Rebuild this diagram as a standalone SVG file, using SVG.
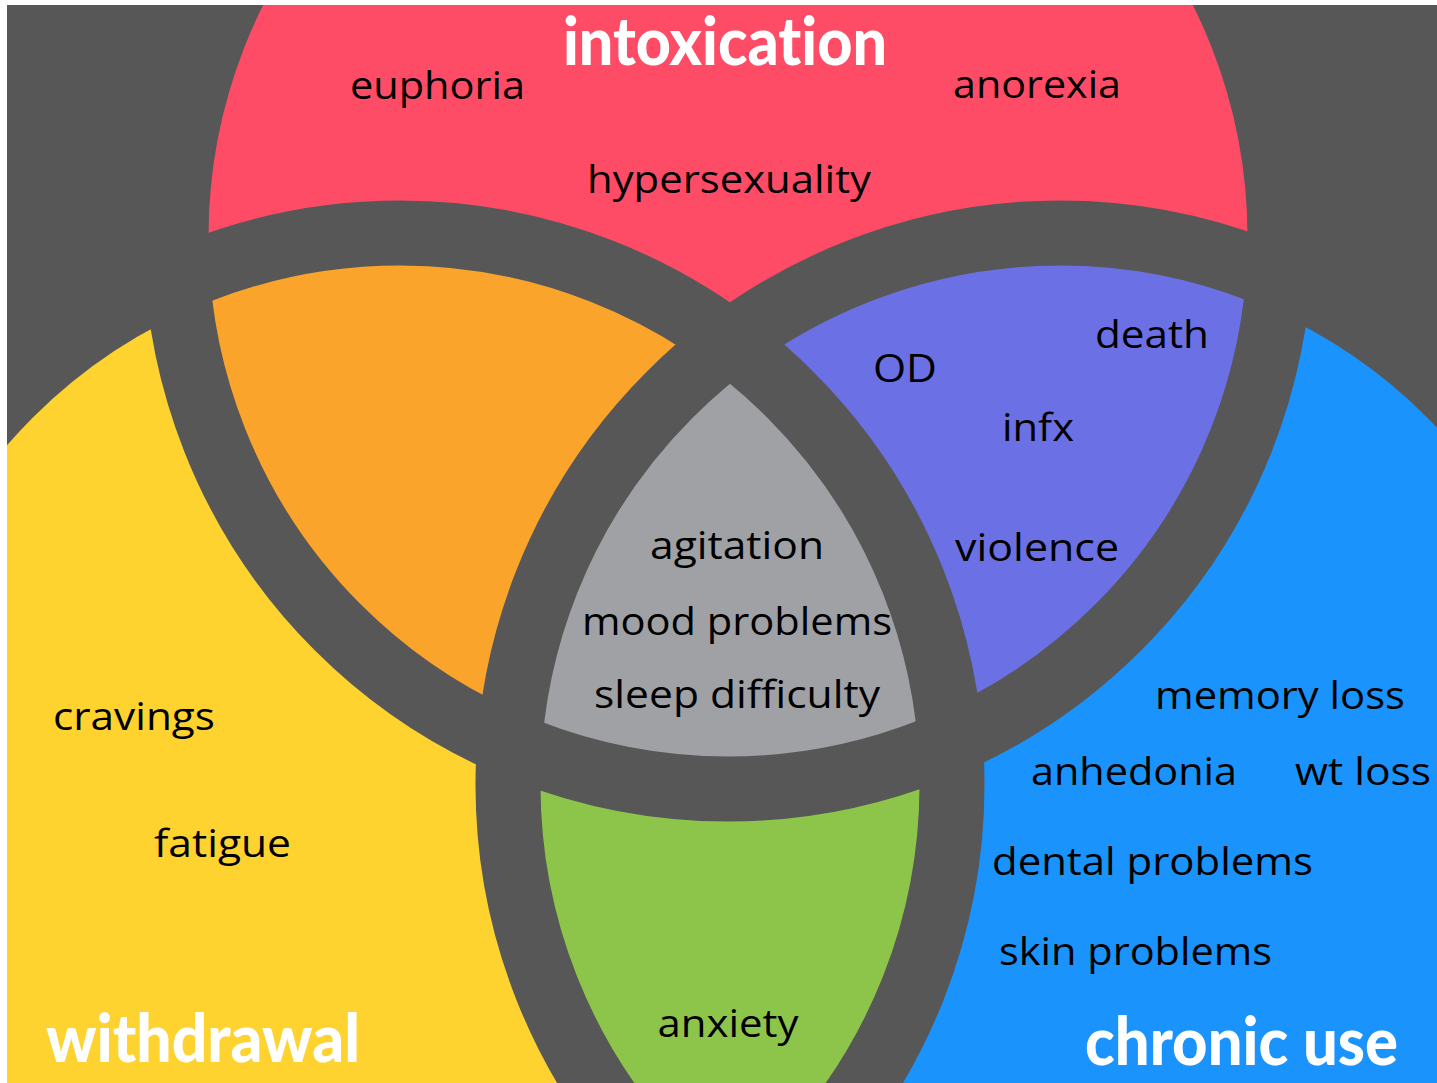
<svg xmlns="http://www.w3.org/2000/svg" width="1437" height="1083" viewBox="0 0 1437 1083">
  <defs>
    <clipPath id="frame"><rect x="7" y="5" width="1430" height="1078"/></clipPath>
    <clipPath id="cR"><circle cx="728" cy="237" r="552"/></clipPath>
    <clipPath id="cY"><circle cx="400" cy="785" r="552"/></clipPath>
    <style>
      .lbl { font-family: "Open Sans", "Noto Sans", "Liberation Sans", sans-serif; font-size: 39px; fill: #000000; }
      .ttl { font-family: Lato, "Open Sans", "Liberation Sans", sans-serif; font-weight: 900; font-size: 67px; fill: #FFFFFF; font-variant-ligatures: none; font-feature-settings: "liga" 0, "dlig" 0; }
      .ring { fill: none; stroke: #575757; stroke-width: 65; }
    </style>
  </defs>
  <rect x="0" y="0" width="1437" height="1083" fill="#FFFFFF"/>
  <g clip-path="url(#frame)">
    <rect x="0" y="0" width="1437" height="1083" fill="#575757"/>

    <g id="intoxication">
      <circle cx="728" cy="237" r="552" fill="#FE4C67"/>
    </g>
    <g id="withdrawal">
      <circle cx="400" cy="785" r="552" fill="#FED330"/>
    </g>
    <g id="chronic-use">
      <circle cx="1060" cy="785" r="552" fill="#1A93FC"/>
    </g>
    <g id="intoxication-withdrawal">
      <circle cx="400" cy="785" r="552" fill="#FBA42B" clip-path="url(#cR)"/>
    </g>
    <g id="intoxication-chronic">
      <circle cx="1060" cy="785" r="552" fill="#6B71E4" clip-path="url(#cR)"/>
    </g>
    <g id="withdrawal-chronic">
      <circle cx="1060" cy="785" r="552" fill="#8DC54A" clip-path="url(#cY)"/>
    </g>
    <g id="all-three" clip-path="url(#cR)">
      <circle cx="1060" cy="785" r="552" fill="#A0A1A5" clip-path="url(#cY)"/>
    </g>

    <g id="connectors">
      <circle class="ring" cx="728" cy="237" r="552"/>
      <circle class="ring" cx="400" cy="785" r="552"/>
      <circle class="ring" cx="1060" cy="785" r="552"/>
    </g>

    <g id="labels-intoxication">
      <text class="ttl" x="563" y="65" textLength="324" lengthAdjust="spacingAndGlyphs">intoxication</text>
      <text class="lbl" x="350" y="98.5" textLength="175" lengthAdjust="spacingAndGlyphs">euphoria</text>
      <text class="lbl" x="953" y="97.7" textLength="168" lengthAdjust="spacingAndGlyphs">anorexia</text>
      <text class="lbl" x="587" y="193.3" textLength="284" lengthAdjust="spacingAndGlyphs">hypersexuality</text>
    </g>
    <g id="labels-intoxication-chronic">
      <text class="lbl" x="873" y="381.7" textLength="64" lengthAdjust="spacingAndGlyphs">OD</text>
      <text class="lbl" x="1095" y="348.3" textLength="114" lengthAdjust="spacingAndGlyphs">death</text>
      <text class="lbl" x="1002" y="440.7" textLength="72" lengthAdjust="spacingAndGlyphs">infx</text>
      <text class="lbl" x="955" y="560.7" textLength="164" lengthAdjust="spacingAndGlyphs">violence</text>
    </g>
    <g id="labels-all-three">
      <text class="lbl" x="650" y="559.3" textLength="174" lengthAdjust="spacingAndGlyphs">agitation</text>
      <text class="lbl" x="582" y="635" textLength="310" lengthAdjust="spacingAndGlyphs">mood problems</text>
      <text class="lbl" x="594" y="708.3" textLength="286" lengthAdjust="spacingAndGlyphs">sleep difficulty</text>
    </g>
    <g id="labels-chronic">
      <text class="lbl" x="1155" y="709.3" textLength="250" lengthAdjust="spacingAndGlyphs">memory loss</text>
      <text class="lbl" x="1031" y="785" textLength="206" lengthAdjust="spacingAndGlyphs">anhedonia</text>
      <text class="lbl" x="1295" y="785" textLength="136" lengthAdjust="spacingAndGlyphs">wt loss</text>
      <text class="lbl" x="992" y="875" textLength="321" lengthAdjust="spacingAndGlyphs">dental problems</text>
      <text class="lbl" x="999" y="965" textLength="273" lengthAdjust="spacingAndGlyphs">skin problems</text>
      <text class="ttl" x="1085" y="1065" textLength="313" lengthAdjust="spacingAndGlyphs">chronic use</text>
    </g>
    <g id="labels-withdrawal">
      <text class="lbl" x="53" y="730" textLength="162" lengthAdjust="spacingAndGlyphs">cravings</text>
      <text class="lbl" x="154" y="856.7" textLength="137" lengthAdjust="spacingAndGlyphs">fatigue</text>
      <text class="ttl" x="46" y="1061.7" textLength="314" lengthAdjust="spacingAndGlyphs">withdrawal</text>
    </g>
    <g id="labels-withdrawal-chronic">
      <text class="lbl" x="657.5" y="1037.3" textLength="141" lengthAdjust="spacingAndGlyphs">anxiety</text>
    </g>
  </g>
</svg>
